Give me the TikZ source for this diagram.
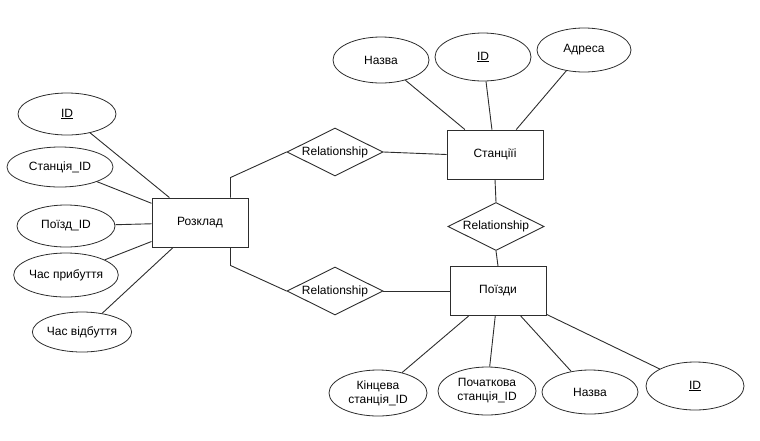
\documentclass[tikz,border=0pt]{standalone}
\usepackage{fontspec}
\setmainfont{Liberation Sans}
\usetikzlibrary{shapes.geometric}
\definecolor{linec}{RGB}{45,45,45}
\begin{document}
\begin{tikzpicture}[x=1pt,y=-1pt,
  every node/.style={font=\fontsize{12}{14}\selectfont, text=black},
  attr/.style={ellipse, draw=linec, line width=0.8pt, inner sep=0pt, align=center},
  entity/.style={rectangle, draw=linec, line width=0.9pt, minimum width=96pt, minimum height=49pt, inner sep=0pt},
  rel/.style={diamond, draw=linec, line width=0.9pt, minimum width=96pt, minimum height=48pt, inner sep=0pt, shape aspect=2},
  link/.style={draw=linec, line width=0.9pt}]
\useasboundingbox (0,0) rectangle (760,440);

% entities
\node[entity] (rozk) at (200,222.5) {Розклад};
\node[entity] (stan) at (495,154.5) {Станціїі};
\node[entity] (poyizd) at (498,291) {Поїзди};

% relationships
\node[rel] (r1) at (335,152) {Relationship};
\node[rel] (r2) at (496,226.5) {Relationship};
\node[rel] (r3) at (335,291) {Relationship};

% attributes of Розклад
\node[attr, minimum width=98pt, minimum height=42pt] (rid) at (67,114) {\underline{ID}};
\node[attr, minimum width=106pt, minimum height=40pt] (rst) at (60,167) {Станція\_ID};
\node[attr, minimum width=98pt, minimum height=42pt] (rpz) at (66,226) {Поїзд\_ID};
\node[attr, minimum width=90pt, minimum height=44pt] (rar) at (66,275) {Час прибуття};
\node[attr, minimum width=98pt, minimum height=40pt] (rdp) at (82,332) {Час відбуття};

% attributes of Станції
\node[attr, minimum width=96pt, minimum height=46pt] (sname) at (381,60) {Назва};
\node[attr, minimum width=96pt, minimum height=48pt] (sid) at (483,57) {\underline{ID}};
\node[attr, minimum width=94pt, minimum height=44pt] (sadr) at (584,50) {Адреса};

% attributes of Поїзди
\node[attr, minimum width=98pt, minimum height=46pt] (pend) at (378,393) {Кінцева\\станція\_ID};
\node[attr, minimum width=98pt, minimum height=48pt] (pbeg) at (487,391) {Початкова\\станція\_ID};
\node[attr, minimum width=96pt, minimum height=44pt] (pname) at (590,392) {Назва};
\node[attr, minimum width=98pt, minimum height=48pt] (pid) at (695,386) {\underline{ID}};

% attribute links
\foreach \a in {rid,rst,rpz,rar,rdp} \draw[link] (\a) -- (rozk);
\foreach \a in {sname,sid,sadr} \draw[link] (\a) -- (stan);
\foreach \a in {pend,pbeg,pname,pid} \draw[link] (\a) -- (poyizd);

% relationship links
\draw[link] ([xshift=-18pt]rozk.north east) -- ++(0,-20) -- (r1.west);
\draw[link] (r1.east) -- (stan.west);
\draw[link] ([xshift=-18pt]rozk.south east) -- ++(0,18) -- (r3.west);
\draw[link] (r3.east) -- (poyizd.west);
\draw[link] (stan.south) -- (r2.north);
\draw[link] (r2.south) -- (poyizd.north);
\end{tikzpicture}
\end{document}
